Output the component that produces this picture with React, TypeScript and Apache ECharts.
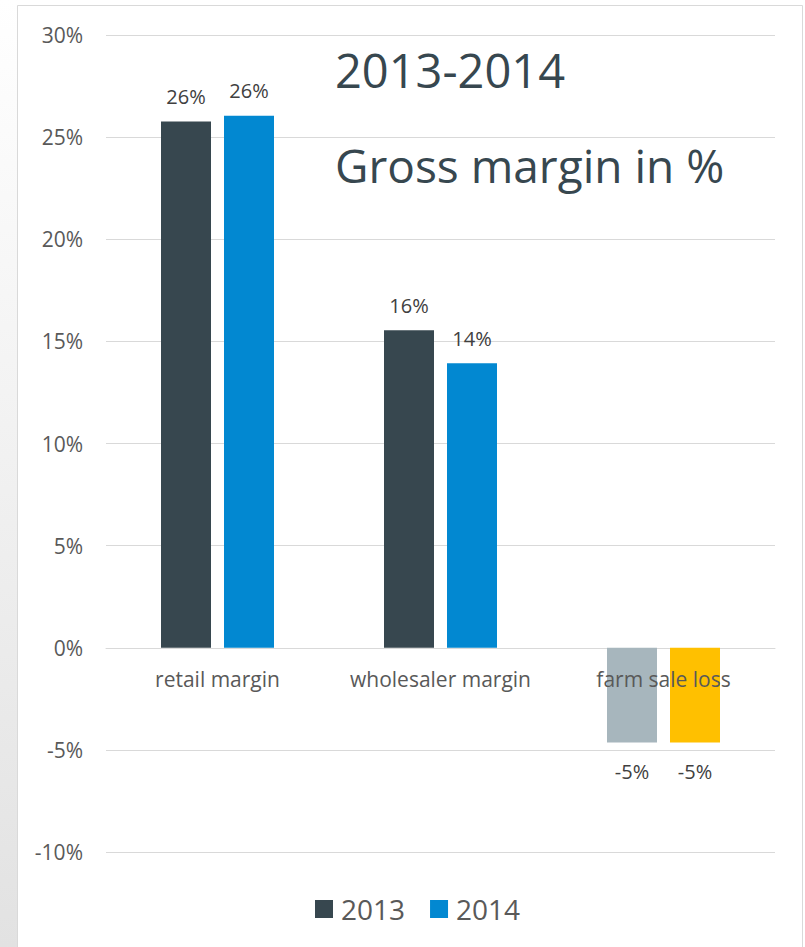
import React, { useEffect, useRef } from "react";
import * as echarts from "echarts";

const categories = ["retail margin", "wholesaler margin", "farm sale loss"];
const seriesNames = ["2013", "2014"];
const values2013 = [25.76, 15.54, -4.64];
const values2014 = [26.05, 13.93, -4.64];
const seriesColors = ["#37474f", "#0288d1"];
const farmColors = ["#a7b6bd", "#ffc000"];
const titleLines = ["2013-2014", "Gross margin in %"];

const FONT = "'Open Sans', 'Noto Sans', sans-serif";

function buildData(vals: number[], sIdx: number) {
  return vals.map((v, i) => {
    const item: any = { value: v };
    if (i === 2) item.itemStyle = { color: farmColors[sIdx] };
    if (v < 0) item.label = { position: "bottom", distance: 19 };
    return item;
  });
}

export default function App() {
  const ref = useRef<HTMLDivElement>(null);
  useEffect(() => {
    if (!ref.current) return;
    const chart = echarts.init(ref.current, undefined, { renderer: "svg" });
    const labelCfg = {
      show: true,
      position: "top",
      distance: 15,
      fontFamily: FONT,
      fontSize: 20,
      color: "#404040",
      formatter: (p: any) => Math.round(p.value) + "%",
    };
    chart.setOption({
      animation: false,
      backgroundColor: "#ffffff",
      textStyle: { fontFamily: FONT },
      graphic: [
        {
          type: "rect",
          shape: { x: 0, y: 0, width: 17, height: 947 },
          style: {
            fill: new echarts.graphic.LinearGradient(0, 0, 0, 1, [
              { offset: 0, color: "#ffffff" },
              { offset: 1, color: "#e2e2e2" },
            ]),
          },
          z: -10,
        },
        {
          type: "rect",
          shape: { x: 17.5, y: 5.5, width: 785, height: 960 },
          style: { fill: "none", stroke: "#d9d9d9", lineWidth: 1 },
          z: -5,
        },
        {
          type: "text",
          x: 335,
          y: 70,
          style: {
            text: titleLines[0],
            fontFamily: FONT,
            fontSize: 47,
            fill: "#37474f",
            verticalAlign: "middle",
            align: "left",
          },
        },
        {
          type: "text",
          x: 335,
          y: 165,
          style: {
            text: titleLines[1],
            fontFamily: FONT,
            fontSize: 46,
            fill: "#37474f",
            verticalAlign: "middle",
            align: "left",
          },
        },
      ],
      legend: {
        data: seriesNames,
        left: 315,
        top: 895,
        padding: 0,
        icon: "rect",
        itemWidth: 18,
        itemHeight: 18,
        itemGap: 25,
        textStyle: { fontFamily: FONT, fontSize: 28, color: "#595959", padding: [0, 0, 0, 3] },
      },
      grid: [
        { left: 106, right: 30, top: 35, bottom: 95, containLabel: false },
        { left: 106, right: 30, top: 600, height: 48, containLabel: false },
      ],
      xAxis: [
        {
          type: "category",
          gridIndex: 0,
          data: categories,
          axisLine: { onZero: true, lineStyle: { color: "#d9d9d9", width: 1 } },
          axisTick: { show: false },
          axisLabel: { show: false },
        },
        {
          type: "category",
          gridIndex: 1,
          data: categories,
          position: "bottom",
          z: 10,
          axisLine: { show: false },
          axisTick: { show: false },
          splitLine: { show: false },
          axisLabel: {
            interval: 0,
            hideOverlap: false,
            fontFamily: FONT,
            fontSize: 21,
            color: "#595959",
            margin: 20,
          },
        },
      ],
      yAxis: [
        {
          type: "value",
          gridIndex: 0,
          min: -10,
          max: 30,
          interval: 5,
          axisLine: { show: false },
          axisTick: { show: false },
          splitLine: { lineStyle: { color: "#d9d9d9", width: 1 } },
          axisLabel: {
            fontFamily: FONT,
            fontSize: 21,
            color: "#595959",
            margin: 23,
            formatter: (v: number) => v + "%",
          },
        },
        {
          type: "value",
          gridIndex: 1,
          show: false,
          min: 0,
          max: 1,
          splitLine: { show: false },
        },
      ],
      series: [
        {
          name: seriesNames[0],
          type: "bar",
          barWidth: 50,
          barGap: "26%",
          itemStyle: { color: seriesColors[0] },
          label: labelCfg,
          data: buildData(values2013, 0),
        },
        {
          name: seriesNames[1],
          type: "bar",
          barWidth: 50,
          barGap: "26%",
          itemStyle: { color: seriesColors[1] },
          label: labelCfg,
          data: buildData(values2014, 1),
        },
      ],
    });
    return () => chart.dispose();
  }, []);
  return (
    <div
      ref={ref}
      style={{ position: "absolute", left: 0, top: 0, width: 805, height: 947 }}
    />
  );
}
